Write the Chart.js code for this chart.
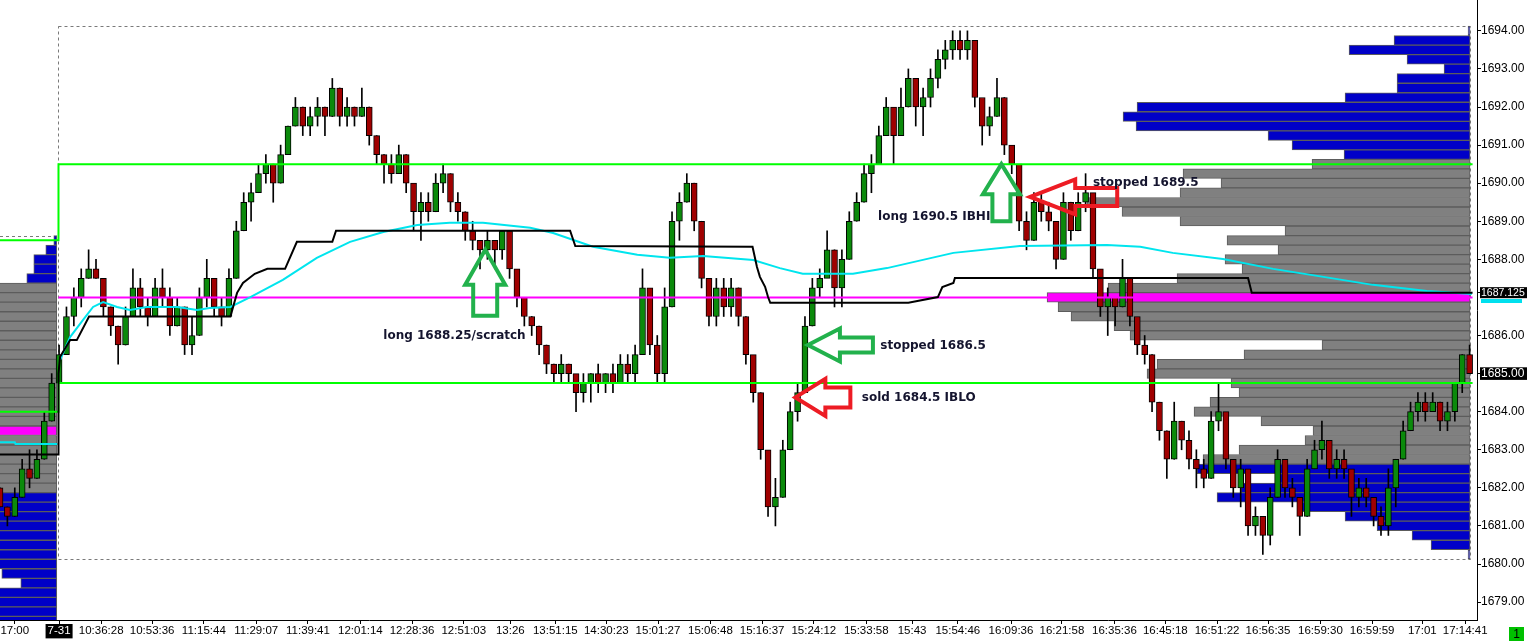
<!DOCTYPE html>
<html>
<head>
<meta charset="utf-8">
<script src="https://cdn.jsdelivr.net/npm/chart.js@4.4.0/dist/chart.umd.min.js"></script>
<style>
  html, body { margin: 0; padding: 0; background: #fff; overflow: hidden; }
</style>
</head>
<body>
<canvas id="chart" width="1527" height="641"></canvas>
<script>
// ---- data ----
// bars run from index -8 (tail of 7-30) to 191; index 0 is the first bar of 7-31
const FIRST_BAR = -8;
const FIRST_OPEN = 1682.0;
const closes = [
  1681.5, 1681.25, 1681.75, 1682.5, 1682.25, 1682.75, 1683.75, 1684.75,
  1685.5, 1686.5, 1687.0, 1687.5, 1687.75, 1687.5, 1686.75, 1686.25, 1685.75, 1686.5,
  1687.25, 1686.75, 1686.5, 1687.25, 1687.0, 1686.25, 1686.75, 1685.75, 1686.0, 1687.0,
  1687.5, 1686.75, 1686.5, 1687.5, 1688.75, 1689.5, 1689.75, 1690.25, 1690.5, 1690.0,
  1690.75, 1691.5, 1692.0, 1691.5, 1691.75, 1692.0, 1691.75, 1692.5, 1691.75, 1692.0,
  1691.75, 1692.0, 1691.25, 1690.75, 1690.5, 1690.25, 1690.75, 1690.0, 1689.25, 1689.5,
  1689.25, 1690.0, 1690.25, 1689.5, 1689.25, 1688.75, 1688.5, 1688.25, 1688.5, 1688.25,
  1688.75, 1687.75, 1687.0, 1686.5, 1686.25, 1685.75, 1685.25, 1685.0, 1685.25, 1685.0,
  1684.5, 1684.75, 1685.0, 1684.75, 1685.0, 1684.75, 1685.25, 1685.0, 1685.5, 1687.25,
  1685.75, 1685.0, 1686.75, 1689.0, 1689.5, 1690.0, 1689.0, 1687.5, 1686.5, 1687.25,
  1686.75, 1687.25, 1686.5, 1685.5, 1684.5, 1683.0, 1681.5, 1681.75, 1683.0, 1684.0,
  1684.5, 1686.25, 1687.25, 1687.5, 1688.25, 1687.25, 1688.0, 1689.0, 1689.5, 1690.25,
  1690.5, 1691.25, 1692.0, 1691.25, 1692.0, 1692.75, 1692.0, 1692.25, 1692.75, 1693.25,
  1693.5, 1693.75, 1693.5, 1693.75, 1692.25, 1691.5, 1691.75, 1692.25, 1691.0, 1690.5,
  1689.0, 1688.5, 1689.5, 1689.25, 1689.0, 1688.0, 1689.5, 1688.75, 1689.5, 1689.75,
  1687.75, 1686.75, 1687.0, 1686.75, 1687.5, 1686.5, 1685.75, 1685.5, 1684.25, 1683.5,
  1682.75, 1683.75, 1683.25, 1682.75, 1682.5, 1682.25, 1683.75, 1684.0, 1682.75, 1682.0,
  1682.5, 1681.0, 1681.25, 1680.75, 1681.75, 1682.75, 1682.0, 1681.75, 1681.25, 1682.5,
  1683.0, 1683.25, 1682.5, 1682.75, 1682.5, 1681.75, 1682.0, 1681.75, 1681.25, 1681.0,
  1682.0, 1682.75, 1683.5, 1684.0, 1684.25, 1684.0, 1684.25, 1683.75, 1684.0, 1684.75, 1685.5, 1685.0
];
const highs = [
  1682.0, 1681.5, 1682.0, 1682.75, 1683.0, 1683.0, 1684.0, 1685.0,
  1685.75, 1686.75, 1687.25, 1687.75, 1688.25, 1688.0, 1687.5, 1686.75, 1686.25, 1686.75,
  1687.75, 1687.5, 1687.0, 1687.5, 1687.75, 1687.25, 1687.0, 1686.75, 1686.5, 1687.25,
  1688.0, 1687.5, 1687.0, 1687.75, 1689.0, 1689.75, 1690.0, 1690.5, 1690.75, 1690.5,
  1691.0, 1691.5, 1692.25, 1692.0, 1692.0, 1692.25, 1692.0, 1692.75, 1692.5, 1692.25,
  1692.0, 1692.5, 1692.0, 1691.25, 1690.75, 1690.75, 1691.0, 1690.75, 1689.75, 1689.75,
  1689.75, 1690.25, 1690.5, 1690.25, 1689.75, 1689.25, 1689.0, 1688.5, 1688.75, 1688.5,
  1688.75, 1688.5, 1687.5, 1687.0, 1686.5, 1686.25, 1685.75, 1685.25, 1685.5, 1685.25,
  1684.75, 1685.0, 1685.0, 1685.25, 1685.0, 1685.25, 1685.5, 1685.5, 1685.75, 1687.75,
  1686.75, 1686.0, 1687.25, 1689.25, 1689.75, 1690.25, 1690.0, 1689.0, 1687.25, 1687.5,
  1687.5, 1687.5, 1687.25, 1686.5, 1685.25, 1684.5, 1682.75, 1682.25, 1683.25, 1684.25,
  1684.75, 1686.5, 1687.5, 1687.75, 1688.75, 1688.25, 1688.25, 1689.25, 1689.75, 1690.5,
  1690.75, 1691.5, 1692.25, 1691.75, 1692.5, 1693.0, 1692.75, 1692.5, 1693.0, 1693.5,
  1693.75, 1694.0, 1694.0, 1694.0, 1693.75, 1692.0, 1692.0, 1692.75, 1692.25, 1690.75,
  1690.0, 1689.25, 1689.75, 1689.75, 1689.5, 1688.75, 1689.75, 1689.5, 1689.75, 1690.25,
  1689.0, 1687.5, 1687.25, 1687.0, 1688.0, 1687.25, 1686.25, 1686.0, 1685.5, 1684.25,
  1683.5, 1684.25, 1683.75, 1683.5, 1683.0, 1682.75, 1684.0, 1684.75, 1683.75, 1682.5,
  1682.75, 1682.25, 1681.5, 1681.25, 1682.0, 1683.0, 1682.75, 1682.25, 1681.75, 1682.75,
  1683.25, 1683.75, 1683.0, 1683.0, 1683.0, 1682.25, 1682.25, 1682.25, 1681.75, 1681.5,
  1682.5, 1682.75, 1683.75, 1684.25, 1684.5, 1684.5, 1684.5, 1684.25, 1684.25, 1684.75, 1685.5, 1685.75
];
const lows = [
  1681.5, 1681.0, 1681.25, 1681.75, 1682.0, 1682.25, 1682.75, 1683.75,
  1684.75, 1685.5, 1686.25, 1686.75, 1687.5, 1687.5, 1686.5, 1686.0, 1685.25, 1685.75,
  1686.5, 1686.5, 1686.25, 1686.5, 1686.75, 1686.0, 1686.25, 1685.5, 1685.5, 1686.0,
  1686.75, 1686.5, 1686.25, 1686.5, 1687.5, 1688.75, 1689.0, 1689.75, 1690.0, 1689.5,
  1690.0, 1690.75, 1691.5, 1691.25, 1691.25, 1691.5, 1691.25, 1691.75, 1691.5, 1691.5,
  1691.5, 1691.75, 1691.0, 1690.5, 1690.0, 1690.0, 1690.25, 1689.75, 1688.75, 1688.5,
  1689.0, 1689.25, 1689.75, 1689.25, 1689.0, 1688.5, 1688.25, 1687.75, 1688.0, 1687.75,
  1688.0, 1687.5, 1686.75, 1686.25, 1686.0, 1685.5, 1685.0, 1684.75, 1684.75, 1684.75,
  1684.0, 1684.25, 1684.25, 1684.5, 1684.5, 1684.5, 1684.75, 1684.75, 1684.75, 1685.5,
  1685.5, 1684.75, 1684.75, 1686.75, 1688.5, 1689.5, 1688.75, 1687.25, 1686.25, 1686.25,
  1686.5, 1686.5, 1686.25, 1685.25, 1684.25, 1682.75, 1681.25, 1681.0, 1681.75, 1683.0,
  1683.75, 1684.5, 1686.25, 1687.0, 1687.75, 1686.75, 1686.75, 1688.0, 1689.0, 1689.5,
  1689.75, 1690.5, 1691.25, 1690.5, 1691.25, 1692.0, 1691.5, 1691.25, 1692.0, 1692.5,
  1693.0, 1693.25, 1693.25, 1693.25, 1692.0, 1691.0, 1691.25, 1691.75, 1690.75, 1690.25,
  1688.75, 1688.25, 1688.5, 1689.0, 1688.75, 1687.75, 1688.0, 1688.5, 1688.75, 1689.25,
  1687.5, 1686.5, 1686.0, 1686.25, 1686.75, 1686.25, 1685.5, 1685.25, 1684.0, 1683.25,
  1682.25, 1682.75, 1683.0, 1682.5, 1682.0, 1682.0, 1682.25, 1683.5, 1682.5, 1681.75,
  1681.5, 1680.75, 1680.75, 1680.25, 1680.5, 1681.75, 1681.75, 1681.5, 1680.75, 1681.25,
  1682.5, 1682.75, 1682.25, 1682.25, 1682.25, 1681.25, 1681.5, 1681.5, 1681.0, 1680.75,
  1680.75, 1681.5, 1682.75, 1683.5, 1683.75, 1683.75, 1684.0, 1683.5, 1683.5, 1683.75, 1684.5, 1685.0
];

// time axis labels and the bar they sit on
const xTickBars = [-6.0, 0, 5.7, 12.6, 19.6, 26.7, 33.7, 40.8, 47.8, 54.8, 61.1, 67.2, 74.1, 81.1, 88.2,
  95.2, 102.2, 109.3, 115.5, 121.7, 128.9, 135.8, 142.9, 149.8, 156.8, 163.7, 170.8, 177.8, 184.6, 190.4];
const xTickLabels = ['17:00', '7-31', '10:36:28', '10:53:36', '11:15:44', '11:29:07', '11:39:41', '12:01:14',
  '12:28:36', '12:51:03', '13:26', '13:51:15', '14:30:23', '15:01:27', '15:06:48', '15:16:37', '15:24:12',
  '15:33:58', '15:43', '15:54:46', '16:09:36', '16:21:58', '16:35:36', '16:45:18', '16:51:22', '16:56:35',
  '16:59:30', '16:59:59', '17:01', '17:14:41'];
const yTickValues = [1679, 1680, 1681, 1682, 1683, 1684, 1685, 1686, 1687.125, 1688, 1689, 1690, 1691, 1692, 1693, 1694];
const LAST_PRICE = 1685.0;
const LEVEL_PRICE = 1687.125;

// volume profiles (row volume, top row first, 0.25 per row)
const TICK = 0.25;
const RIGHT_TOP = 1694.0;
const rightVolumes = [2, 76, 121, 63, 26, 73, 73, 125, 333, 347, 334, 202, 178, 126,
  158, 287, 249, 290, 383, 348, 290, 185, 243, 192, 245, 228, 293, 362, 423, 412, 399,
  356, 340, 148, 226, 313, 323, 239, 231, 260, 276, 209, 157, 165, 231, 267,
  273, 191, 229, 253, 170, 125, 93, 58, 39, 2];
const RIGHT_VA = [1682.75, 1690.5], RIGHT_POC = 1687.0;
const LEFT_TOP = 1688.5;
const leftVolumes = [3, 11, 23, 23, 30, 150, 170, 190, 210, 240, 260, 250, 280, 300, 290,
  310, 330, 360, 340, 320, 300, 290, 270, 250, 230, 210, 190, 170, 160, 150, 140, 120,
  110, 100, 90, 55, 36, 80, 90, 100, 110];
const LEFT_VA = [1682.0, 1687.25], LEFT_POC = 1683.5;
const VOL_PER_BAR = 7.385;
const RIGHT_ANCHOR = 191.06, LEFT_ANCHOR = -0.31;

// indicator lines [bar, price]
const SESSION = -0.08;
const vwapLine = [[-8, 1682.875], [SESSION, 1682.875], [SESSION, 1685.0], [0.14, 1685.44], [1.5, 1685.88],
  [2.4, 1685.88], [4.06, 1686.5], [23.2, 1686.5], [24.1, 1687.12], [24.9, 1687.38], [26.5, 1687.62],
  [28.2, 1687.75], [30.6, 1687.75], [32.2, 1688.46], [37.0, 1688.46], [37.5, 1688.75], [69.2, 1688.75],
  [69.9, 1688.35], [93.9, 1688.33], [94.5, 1687.8], [94.9, 1687.54], [95.6, 1687.28], [96.0, 1687.01],
  [96.3, 1686.86], [115.0, 1686.86], [119.0, 1687.01], [119.6, 1687.27], [121.1, 1687.38], [121.3, 1687.51],
  [161.0, 1687.51], [161.5, 1687.12], [191.4, 1687.12]];
const maLine = [[-8, 1683.2], [-6, 1683.2], [-5.9, 1683.15], [-0.2, 1683.15], [-0.15, null],
  [0.14, 1685.36], [1.49, 1685.96], [3.25, 1686.41], [4.6, 1686.75], [5.96, 1686.88], [7.85, 1686.75],
  [9.6, 1686.67], [11.9, 1686.75], [16.0, 1686.75], [18.7, 1686.67], [20.4, 1686.72], [23.2, 1686.75],
  [25.9, 1687.01], [30.3, 1687.46], [34.9, 1688.04], [39.4, 1688.46], [43.9, 1688.72], [48.5, 1688.9],
  [52.9, 1688.96], [57.4, 1688.96], [63.8, 1688.83], [66.9, 1688.69], [72.3, 1688.33], [78.3, 1688.12],
  [82.7, 1688.04], [87.2, 1688.09], [94.0, 1687.98], [97.6, 1687.77], [100.7, 1687.62], [107.5, 1687.62],
  [112.1, 1687.77], [121.1, 1688.17], [130.1, 1688.35], [141.9, 1688.38], [146.4, 1688.33], [150.8, 1688.17],
  [157.6, 1688.01], [164.4, 1687.75], [171.2, 1687.54], [177.9, 1687.33], [185.2, 1687.17], [191.3, 1687.09]];
const ibHigh = [[-8, 1688.5], [SESSION, 1688.5], [SESSION, 1690.5], [191.4, 1690.5]];
const ibLow = [[-8, 1684.0], [SESSION, 1684.0], [SESSION, 1684.75], [191.4, 1684.75]];
const pocLine = [[SESSION, 1687.0], [191.4, 1687.0]];
const DAY_RANGE = [1680.125, 1694.125], DAY_END = 191.06;
const PREV_HIGH = 1688.625;

// trade notes
const notes = [
  { text: 'long 1688.25/scratch', bar: 43.9, price: 1685.99 },
  { text: 'stopped 1686.5', bar: 111.2, price: 1685.73 },
  { text: 'sold 1684.5 IBLO', bar: 108.7, price: 1684.36 },
  { text: 'long 1690.5 IBHI', bar: 110.9, price: 1689.11 },
  { text: 'stopped 1689.5', bar: 140.0, price: 1690.0 }
];
const arrows = [
  { dir: 'up', bar: 57.7, price: 1688.25, color: '#22b14c', head: 40, headLen: 35, shaft: 24, shaftLen: 31 },
  { dir: 'left', bar: 101.4, price: 1685.75, color: '#22b14c', head: 33, headLen: 32, shaft: 15, shaftLen: 33 },
  { dir: 'left', bar: 99.7, price: 1684.375, color: '#ed1c24', head: 37, headLen: 30, shaft: 20, shaftLen: 25 },
  { dir: 'up', bar: 127.6, price: 1690.5, color: '#22b14c', head: 37, headLen: 30, shaft: 18, shaftLen: 27 },
  { dir: 'left', bar: 131.5, price: 1689.64, color: '#ed1c24', head: 35, headLen: 45, shaft: 18, shaftLen: 42 }
];

// ---- build datasets ----
const bodies = [], wicks = [], bodyColors = [];
closes.forEach((c, k) => {
  const i = FIRST_BAR + k;
  const o = k === 0 ? FIRST_OPEN : closes[k - 1];
  bodies.push({ x: i, y: [o, c] });
  wicks.push({ x: i, y: [lows[k], highs[k]] });
  bodyColors.push(c >= o ? '#0b8a0b' : '#a00000');
});

function profileData(vols, top, anchor, va, poc) {
  const data = [], colors = [];
  vols.forEach((v, k) => {
    const p = top - k * TICK;
    data.push({ x: [anchor - v / VOL_PER_BAR, anchor], y: p });
    colors.push(p === poc ? '#ff00ff' : (p >= va[0] && p <= va[1] ? '#808080' : '#0000c8'));
  });
  return { data, colors };
}
const rightProf = profileData(rightVolumes, RIGHT_TOP, RIGHT_ANCHOR, RIGHT_VA, RIGHT_POC);
const leftProf = profileData(leftVolumes, LEFT_TOP, LEFT_ANCHOR, LEFT_VA, LEFT_POC);

const pts = arr => arr.map(([x, y]) => ({ x, y }));
const lineDs = (data, color, order) => ({
  type: 'line', data: pts(data), borderColor: color, borderWidth: 2, pointRadius: 0,
  tension: 0, spanGaps: false, order
});
const profDs = (p, order) => ({
  type: 'bar', indexAxis: 'y', xAxisID: 'xp', yAxisID: 'yp', data: p.data,
  backgroundColor: p.colors, borderColor: '#5c5c5c', borderWidth: 1, borderSkipped: false,
  grouped: false, categoryPercentage: 1, barPercentage: 1, order
});

const X_MIN = -8, X_MAX = 192, Y_MIN = 1678.53, Y_MAX = 1694.81;
const axisFont = "'Liberation Sans', Arial, sans-serif";
const noPad = s => { s.paddingLeft = 0; s.paddingRight = 0; s.paddingTop = 0; s.paddingBottom = 0; };

const overlay = {
  id: 'overlay',
  beforeDraw(chart) {
    const { ctx, scales: { y } } = chart;
    ctx.save();
    ctx.fillStyle = '#fff';
    ctx.fillRect(0, 0, chart.width, chart.height);
    // MA price marker, mostly hidden under the level marker
    const ma = maLine[maLine.length - 1][1];
    ctx.fillStyle = '#00e0ee';
    ctx.fillRect(y.left + 4, y.getPixelForValue(ma) + 5, 41, 4);
    ctx.restore();
  },
  beforeDatasetsDraw(chart) {
    const { ctx, chartArea: a, scales: { x, y } } = chart;
    ctx.save();
    ctx.beginPath();
    ctx.rect(a.left, a.top, a.right - a.left, a.bottom - a.top);
    ctx.clip();
    ctx.strokeStyle = '#7a7a7a';
    ctx.lineWidth = 1;
    ctx.setLineDash([3, 3]);
    const x0 = Math.round(x.getPixelForValue(SESSION)) + 0.5, x1 = Math.round(x.getPixelForValue(DAY_END)) + 0.5;
    const yt = Math.round(y.getPixelForValue(DAY_RANGE[1])) + 0.5, yb = Math.round(y.getPixelForValue(DAY_RANGE[0])) + 0.5;
    ctx.strokeRect(x0, yt, x1 - x0, yb - yt);
    const yp = Math.round(y.getPixelForValue(PREV_HIGH)) + 0.5;
    ctx.beginPath();
    ctx.moveTo(a.left, yp); ctx.lineTo(x0, yp);
    ctx.stroke();
    ctx.restore();
  },
  afterDatasetsDraw(chart) {
    const { ctx, scales: { x, y } } = chart;
    ctx.save();
    ctx.lineWidth = 4;
    ctx.lineJoin = 'miter';
    arrows.forEach(a => {
      const tx = x.getPixelForValue(a.bar), ty = y.getPixelForValue(a.price);
      ctx.strokeStyle = a.color;
      ctx.beginPath();
      if (a.dir === 'up') {
        ctx.moveTo(tx, ty);
        ctx.lineTo(tx + a.head / 2, ty + a.headLen);
        ctx.lineTo(tx + a.shaft / 2, ty + a.headLen);
        ctx.lineTo(tx + a.shaft / 2, ty + a.headLen + a.shaftLen);
        ctx.lineTo(tx - a.shaft / 2, ty + a.headLen + a.shaftLen);
        ctx.lineTo(tx - a.shaft / 2, ty + a.headLen);
        ctx.lineTo(tx - a.head / 2, ty + a.headLen);
      } else {
        ctx.moveTo(tx, ty);
        ctx.lineTo(tx + a.headLen, ty - a.head / 2);
        ctx.lineTo(tx + a.headLen, ty - a.shaft / 2);
        ctx.lineTo(tx + a.headLen + a.shaftLen, ty - a.shaft / 2);
        ctx.lineTo(tx + a.headLen + a.shaftLen, ty + a.shaft / 2);
        ctx.lineTo(tx + a.headLen, ty + a.shaft / 2);
        ctx.lineTo(tx + a.headLen, ty + a.head / 2);
      }
      ctx.closePath();
      ctx.stroke();
    });
    ctx.font = 'bold 12px "DejaVu Sans", sans-serif';
    ctx.fillStyle = '#14142e';
    ctx.textBaseline = 'middle';
    notes.forEach(n => ctx.fillText(n.text, x.getPixelForValue(n.bar), y.getPixelForValue(n.price)));
    ctx.restore();
  },
  afterDraw(chart) {
    const { ctx } = chart;
    ctx.save();
    ctx.fillStyle = '#00c000';
    ctx.fillRect(1509, 627, 15, 14);
    ctx.fillStyle = '#000';
    ctx.font = '12px ' + axisFont;
    ctx.textAlign = 'center';
    ctx.textBaseline = 'middle';
    ctx.fillText('1', 1516.5, 634.5);
    ctx.restore();
  }
};

new Chart(document.getElementById('chart'), {
  type: 'bar',
  data: {
    datasets: [
      lineDs(vwapLine, '#000000', 0),
      lineDs(maLine, '#00e5ee', 1),
      lineDs(pocLine, '#ff00ff', 2),
      lineDs(ibHigh, '#00ff00', 3),
      lineDs(ibLow, '#00ff00', 3),
      { type: 'bar', data: bodies, backgroundColor: bodyColors, borderColor: '#000', borderWidth: 1,
        borderSkipped: false, grouped: false, categoryPercentage: 1, barPercentage: 1,
        maxBarThickness: 6, minBarLength: 1, order: 4 },
      { type: 'bar', data: wicks, backgroundColor: '#000', borderWidth: 0, grouped: false,
        categoryPercentage: 1, barPercentage: 1, maxBarThickness: 1, order: 5 },
      profDs(rightProf, 6),
      profDs(leftProf, 6)
    ]
  },
  options: {
    responsive: false,
    animation: false,
    devicePixelRatio: 1,
    layout: { padding: 0 },
    plugins: { legend: { display: false }, tooltip: { enabled: false } },
    scales: {
      x: {
        type: 'linear', min: X_MIN, max: X_MAX, offset: false,
        afterBuildTicks: s => { s.ticks = xTickBars.map(v => ({ value: v })); },
        afterFit: s => { s.height = 21; noPad(s); },
        border: { display: true, color: '#000', width: 1 },
        grid: { drawOnChartArea: false, drawTicks: true, tickLength: 4, color: '#000', offset: false },
        ticks: {
          autoSkip: false, maxRotation: 0, minRotation: 0, padding: 0,
          font: { family: axisFont, size: 11.5, lineHeight: 1.25 },
          callback: (v, i) => xTickLabels[i],
          color: c => (xTickLabels[c.index] === '7-31' ? '#fff' : '#000'),
          showLabelBackdrop: c => xTickLabels[c.index] === '7-31',
          backdropColor: '#000',
          backdropPadding: { left: 2, right: 2, top: 0, bottom: 0 }
        }
      },
      y: {
        type: 'linear', position: 'right', min: Y_MIN, max: Y_MAX, offset: false,
        afterBuildTicks: s => { s.ticks = yTickValues.map(v => ({ value: v })); },
        afterFit: s => { s.width = 50; noPad(s); },
        border: { display: true, color: '#000', width: 1 },
        grid: { drawOnChartArea: false, drawTicks: true, tickLength: 4, color: '#000' },
        ticks: {
          padding: 0,
          font: c => ({ family: axisFont, size: c.tick && c.tick.value === LEVEL_PRICE ? 10.5 : 12, lineHeight: 1.05 }),
          callback: v => (v === LEVEL_PRICE ? '1687.125' : v.toFixed(2)),
          color: c => (c.tick.value === LAST_PRICE || c.tick.value === LEVEL_PRICE ? '#fff' : '#000'),
          showLabelBackdrop: c => c.tick.value === LAST_PRICE || c.tick.value === LEVEL_PRICE,
          backdropColor: '#000',
          backdropPadding: { left: 1, right: 3, top: 0, bottom: 0 }
        }
      },
      xp: { type: 'linear', display: false, position: 'bottom', min: X_MIN, max: X_MAX, offset: false },
      yp: { type: 'linear', display: false, position: 'right', min: Y_MIN, max: Y_MAX, offset: false }
    }
  },
  plugins: [overlay]
});
</script>
</body>
</html>
